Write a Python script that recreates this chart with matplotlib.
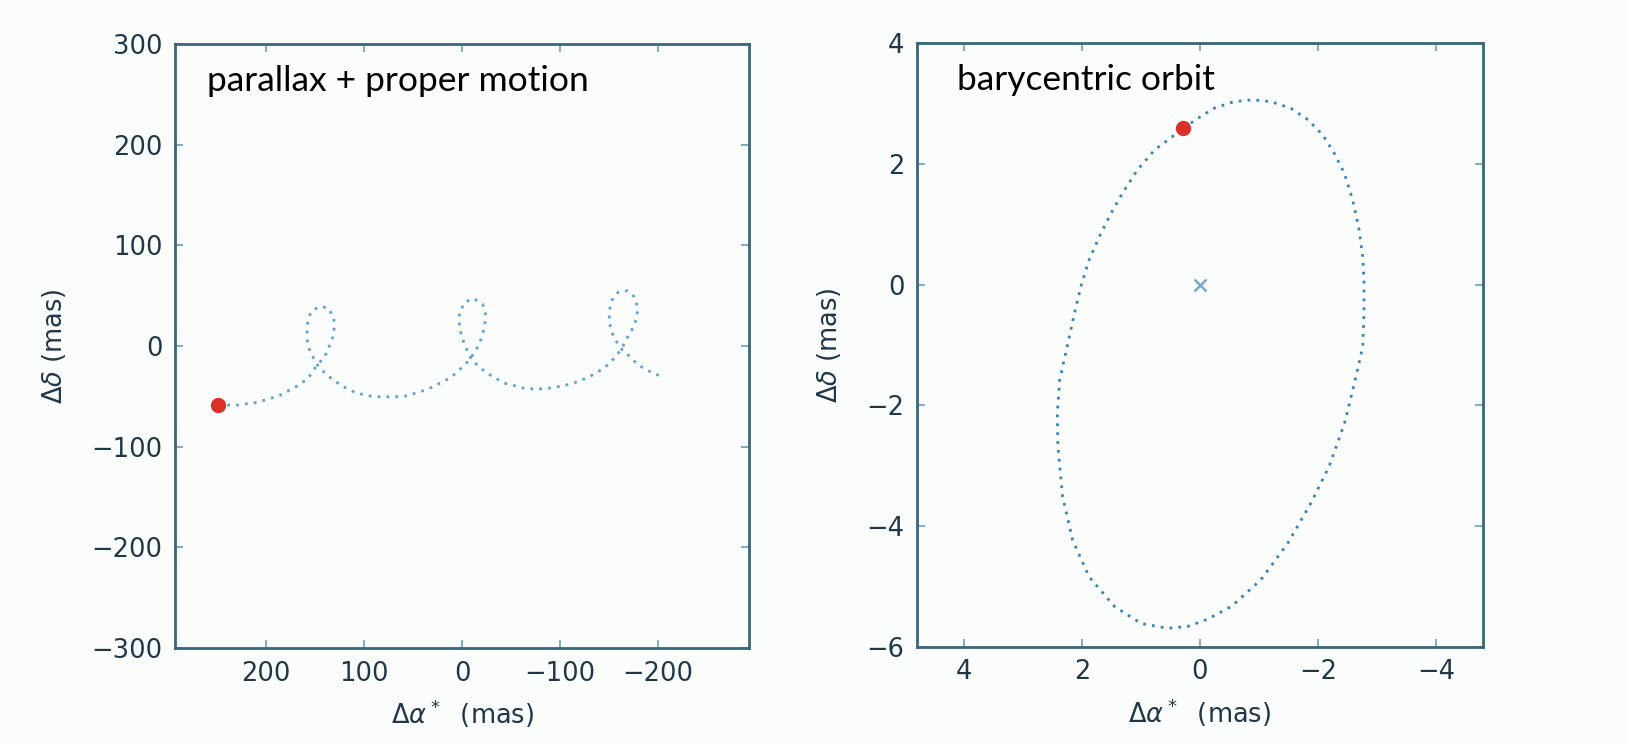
import matplotlib
matplotlib.use('Agg')
import matplotlib.pyplot as plt

# parallax + proper motion track (mas)
pm_ra = [248.8, 228.7, 208.7, 186.8, 170.4, 157.7, 147.8, 140.6, 135.8, 132.2,
         130.4, 131.1, 137.6, 146.8, 154.8, 157.7, 158.4, 157.7, 154.0, 147.8,
         141.3, 132.9, 124.9, 115.8, 106.7, 95.7, 84.8, 73.9, 64.8, 55.6,
         44.7, 35.6, 26.5, 17.4, 9.0, 1.0, -6.3, -9.2, -17.2, -20.9,
         -23.4, -23.8, -20.9, -11.8, -2.7, 2.8, 2.8, 1.0, -2.7, -7.0,
         -9.2, -19.1, -26.4, -35.5, -44.6, -55.5, -64.6, -75.6, -86.5, -95.6,
         -106.5, -115.6, -124.8, -133.9, -143.0, -150.3, -157.6, -163.0, -168.5, -173.9,
         -178.3, -179.4, -175.8, -168.5, -159.4, -152.8, -150.3, -150.3, -152.8, -157.6,
         -163.0, -170.3, -179.4, -188.5, -197.6, -206.7]
pm_dec = [-58.6, -58.6, -55.8, -49.4, -40.9, -32.7, -18.5, -11.4, -0.8, 8.1,
          18.7, 29.4, 38.3, 39.0, 32.9, 22.3, 11.6, 1.0, -7.9, -18.5,
          -25.6, -32.7, -38.0, -43.3, -46.9, -49.4, -50.4, -50.4, -50.4, -49.4,
          -45.8, -43.3, -38.7, -34.5, -29.1, -22.1, -15.0, -11.4, 1.0, 11.6,
          22.3, 32.9, 41.8, 47.1, 43.6, 32.9, 22.3, 11.6, 1.0, -7.9,
          -13.2, -22.1, -27.4, -32.7, -37.3, -39.8, -42.3, -42.6, -42.3, -40.9,
          -38.7, -36.2, -32.7, -28.4, -23.1, -17.4, -9.6, -2.5, 8.1, 17.0,
          27.6, 38.3, 48.9, 54.9, 53.5, 45.3, 34.7, 24.1, 13.4, 4.6,
          -3.3, -9.6, -18.5, -23.8, -28.1, -30.9]

# barycentric orbit (mas)
orbit_ra = [0.28, 0.04, -0.24, -0.58, -0.89, -1.20, -1.54, -1.83, -2.08, -2.28,
            -2.45, -2.59, -2.70, -2.76, -2.78, -2.78, -2.76, -2.62, -2.45, -2.19,
            -1.88, -1.49, -1.03, -0.53, -0.13, 0.21, 0.55, 1.00, 1.45, 1.88,
            2.16, 2.33, 2.41, 2.42, 2.38, 2.24, 2.13, 2.02, 1.88, 1.71,
            1.51, 1.28, 1.06, 0.77, 0.55, 0.28]
orbit_dec = [2.59, 2.75, 2.92, 3.03, 3.06, 3.03, 2.92, 2.73, 2.48, 2.17,
             1.84, 1.40, 0.90, 0.46, 0.08, -0.48, -1.03, -1.63, -2.30, -3.01,
             -3.62, -4.28, -4.89, -5.33, -5.54, -5.66, -5.69, -5.61, -5.33, -4.84,
             -4.23, -3.51, -2.68, -2.13, -1.58, -0.97, -0.48, -0.03, 0.41, 0.79,
             1.18, 1.57, 1.90, 2.23, 2.39, 2.59]

left_xticks = [200, 100, 0, -100, -200]
left_yticks = [-300, -200, -100, 0, 100, 200, 300]
right_xticks = [4, 2, 0, -2, -4]
right_yticks = [-6, -4, -2, 0, 2, 4]

bg = '#fbfcfc'
spine_c = '#3a6679'
text_c = '#1f3748'
dots = (0, (1, 2.2))

fig = plt.figure(figsize=(16.27, 7.44), dpi=100, facecolor=bg)
ax1 = fig.add_axes([0.1076, 0.1290, 0.3528, 0.8118])
ax2 = fig.add_axes([0.5636, 0.1304, 0.3479, 0.8118])

ax1.plot(pm_ra, pm_dec, linestyle=dots, color='#5fa3d0', linewidth=2)
ax1.plot(pm_ra[0], pm_dec[0], 'o', color='#d9302a', markersize=10)
ax1.set_xlim(293, -293)
ax1.set_ylim(-300, 300)
ax1.set_xticks(left_xticks)
ax1.set_yticks(left_yticks)
ax1.text(0.055, 0.965, 'parallax + proper motion', transform=ax1.transAxes,
         fontsize=25.5, family='Lato', color='black', va='top', ha='left')

ax2.plot(orbit_ra, orbit_dec, linestyle=dots, color='#3b84b3', linewidth=2)
ax2.plot(orbit_ra[0], orbit_dec[0], 'o', color='#d9302a', markersize=10)
ax2.plot(0, 0, 'x', color='#7aa9c3', markersize=9, markeredgewidth=1.8)
ax2.set_xlim(4.8, -4.8)
ax2.set_ylim(-6, 4)
ax2.set_xticks(right_xticks)
ax2.set_yticks(right_yticks)
ax2.text(0.07, 0.965, 'barycentric orbit', transform=ax2.transAxes,
         fontsize=25.5, family='Lato', color='black', va='top', ha='left')

for ax in (ax1, ax2):
    ax.set_facecolor(bg)
    for s in ax.spines.values():
        s.set_color(spine_c)
        s.set_linewidth(2)
    ax.tick_params(direction='in', top=True, right=True, length=6, width=1.2,
                   color='#6f9fb6', labelsize=18.5, labelcolor=text_c, pad=9)
    ax.set_xlabel(r'$\Delta\alpha^*$  (mas)', fontsize=18.5, color=text_c, labelpad=8)
    ax.set_ylabel(r'$\Delta\delta$ (mas)', fontsize=18.5, color=text_c, labelpad=17)

fig.savefig('out.png', dpi=100, facecolor=bg)
